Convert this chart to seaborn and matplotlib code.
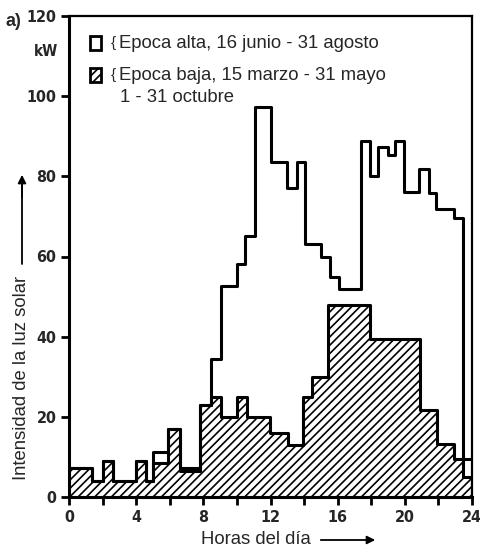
import matplotlib
matplotlib.use("Agg")
import matplotlib.pyplot as plt
import seaborn as sns
import numpy as np
from matplotlib.patches import Rectangle

# Epoca alta (contorno blanco)
bordes_alta = [0, 1.35, 2.05, 2.65, 4.0, 4.6, 5.0, 5.9, 6.6, 7.8,
               8.45, 9.05, 10.0, 10.5, 11.1, 12.05, 13.0, 13.55, 14.05, 15.0,
               15.55, 16.05, 17.4, 17.9, 18.4, 19.0, 19.4, 19.95, 20.85, 21.45,
               21.85, 22.9, 23.45, 24]
kw_alta = [7.3, 4, 9, 4, 9, 4, 11.3, 17, 7.3, 23,
           34.4, 52.7, 58.2, 65, 97.4, 83.6, 77.2, 83.6, 63, 60,
           54.8, 51.9, 88.8, 80, 87.2, 85.2, 88.8, 76, 81.8, 75.9,
           71.8, 69.7, 9.5]

# Epoca baja (rayado)
bordes_baja = [0, 1.35, 2.05, 2.65, 4.0, 4.6, 5.0, 5.9, 6.6, 7.8,
               8.45, 9.05, 10.0, 10.6, 11.95, 13.05, 13.95, 14.5, 15.4, 17.95,
               20.9, 21.9, 22.95, 23.45, 24]
kw_baja = [7.3, 4, 9, 4, 9, 4, 8.5, 17, 6.5, 23,
           25, 20, 25, 20, 16, 13, 25, 30, 48, 39.5,
           21.8, 13.3, 9.5, 5]

ticks_y = [0, 20, 40, 60, 80, 100, 120]
ticks_x = [0, 4, 8, 12, 16, 20, 24]

sns.set_style("ticks")
plt.rcParams["font.family"] = ["Liberation Sans", "DejaVu Sans"]
plt.rcParams["hatch.color"] = "black"
plt.rcParams["hatch.linewidth"] = 1.2

fig = plt.figure(figsize=(4.81, 5.47), dpi=100)
ax = fig.add_axes([69/481, 50/547, 403/481, 481/547])

def centros(b):
    b = np.array(b)
    return (b[:-1] + b[1:]) / 2

sns.histplot(x=centros(bordes_baja), weights=kw_baja, bins=bordes_baja,
             element="step", fill=True, facecolor="white", edgecolor="black",
             hatch="////", linewidth=2.2, alpha=1, ax=ax)
sns.histplot(x=centros(bordes_alta), weights=kw_alta, bins=bordes_alta,
             element="step", fill=False, color="black", linewidth=2.2, ax=ax)

ax.set_xlim(0, 24)
ax.set_ylim(0, 120)
ax.set_xlabel("")
ax.set_ylabel("")
ax.set_xticks(range(0, 25, 2))
ax.set_xticklabels([str(t) if t in ticks_x else "" for t in range(0, 25, 2)])
ax.set_yticks(ticks_y)
for s in ax.spines.values():
    s.set_visible(True)
    s.set_linewidth(1.6)
    s.set_color("black")
ax.spines["left"].set_linewidth(2.2)
ax.spines["bottom"].set_linewidth(2.2)
ax.tick_params(axis="both", direction="out", length=6, width=2, color="black",
               labelsize=11.5, pad=3)
for lab in ax.get_xticklabels() + ax.get_yticklabels():
    lab.set_fontfamily("DejaVu Sans")
    lab.set_fontstretch("condensed")
    lab.set_fontweight("bold")

# leyenda dibujada a mano
def fx(px):
    return (px - 69) / 403
def fy(py):
    return (497 - py) / 481

ax.add_patch(Rectangle((fx(90), fy(50)), fx(101) - fx(90), fy(36) - fy(50),
                       transform=ax.transAxes, facecolor="white",
                       edgecolor="black", linewidth=2, clip_on=False))
ax.add_patch(Rectangle((fx(90), fy(82)), fx(101) - fx(90), fy(68) - fy(82),
                       transform=ax.transAxes, facecolor="white", hatch="////",
                       edgecolor="black", linewidth=2, clip_on=False))
for py in [43, 75]:
    ax.text(fx(111), fy(py), "{", transform=ax.transAxes, fontsize=11,
            va="center", ha="left")
ax.text(fx(119), fy(43), "Epoca alta, 16 junio - 31 agosto",
        transform=ax.transAxes, fontsize=13.3, va="center", ha="left")
ax.text(fx(119), fy(75), "Epoca baja, 15 marzo - 31 mayo",
        transform=ax.transAxes, fontsize=13.3, va="center", ha="left")
ax.text(fx(120), fy(97), "1 - 31 octubre",
        transform=ax.transAxes, fontsize=13.3, va="center", ha="left")

# etiquetas de ejes con flechas
fig.text(5/481, 1 - 22/547, "a)", fontsize=13, fontweight="bold",
         va="center", ha="left")
fig.text(46/481, 1 - 52/547, "kW", fontsize=11, fontweight="bold",
         va="center", ha="center", family="DejaVu Sans", stretch="condensed")
fig.text(22/481, 1 - 378/547, "Intensidad de la luz solar", rotation=90,
         fontsize=13.3, va="center", ha="center")
fig.add_artist(plt.Line2D([22/481, 22/481], [1 - 264/547, 1 - 185/547],
                          color="black", linewidth=1.3))
fig.text(256/481, 1 - 539/547, "Horas del día", fontsize=13.3,
         va="center", ha="center")
ax.annotate("", xy=(22/481, 1 - 172/547), xytext=(22/481, 1 - 200/547),
            xycoords="figure fraction",
            arrowprops=dict(arrowstyle="-|>", color="black", lw=1.3,
                            mutation_scale=12))
ax.annotate("", xy=(378/481, 1 - 540/547), xytext=(318/481, 1 - 540/547),
            xycoords="figure fraction",
            arrowprops=dict(arrowstyle="-|>", color="black", lw=1.3,
                            mutation_scale=12))

fig.savefig("out.png", dpi=100)
